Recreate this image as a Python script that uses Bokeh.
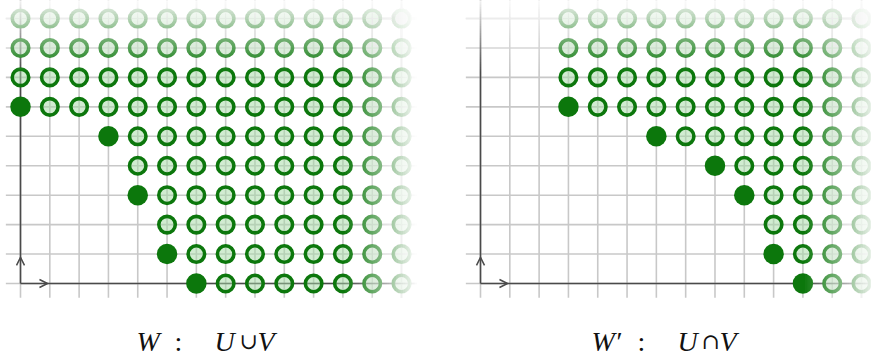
import numpy as np
from bokeh.plotting import figure
from bokeh.models import Range1d, Arrow, OpenHead, ColumnDataSource
from bokeh.core.properties import value
from bokeh.embed import file_html
from bokeh.resources import INLINE

# ---------------- data ----------------
N_COLS = 14          # lattice columns shown (0..13)
N_ROWS = 10          # lattice rows shown (0..9)
# generators (filled dots) of the two monomial ideals
W_gen_x = [0, 3, 4, 5, 6]
W_gen_y = [6, 5, 3, 1, 0]
Wp_gen_x = [3, 6, 8, 9, 10, 11]
Wp_gen_y = [6, 5, 4, 3, 1, 0]

# caption pieces: text, style, page-x of left edge
cap_left_text = ["W", ":", "U", "\u222a", "V"]
cap_left_style = ["italic", "normal", "italic", "normal", "italic"]
cap_left_px = [136, 174, 214, 239, 257]
cap_right_text = ["W\u2032", ":", "U", "\u2229", "V"]
cap_right_style = ["italic", "normal", "italic", "normal", "italic"]
cap_right_px = [591, 637, 677, 701, 719]

# ---------------- layout ----------------
W_PX, H_PX = 871, 356
UX, UY = 29.31, 29.44          # pixels per lattice unit
ORIGIN_X_PX = 20               # left panel origin in figure px
ORIGIN_Y_PX = 283              # origin from top, figure px
PANEL_GAP_PX = 460
offsets = [0.0, PANEL_GAP_PX / UX]

x_range = Range1d(-ORIGIN_X_PX / UX, (W_PX - ORIGIN_X_PX) / UX)
y_range = Range1d(-(H_PX - ORIGIN_Y_PX) / UY, ORIGIN_Y_PX / UY)

p = figure(width=W_PX, height=H_PX, x_range=x_range, y_range=y_range,
           output_backend="svg", toolbar_location=None, min_border=0)
p.axis.visible = False
p.grid.visible = False
p.outline_line_color = None
p.background_fill_color = "white"
p.border_fill_color = "white"

GRID_COLOR = "#c8c8c8"
AXIS_COLOR = "#4a4a4a"
DARK_GREEN = "#0c770c"
X_END = 13.6
Y_END = 9.8

def ideal_points(gx, gy):
    ring_x, ring_y = [], []
    gens = set(zip(gx, gy))
    for j in range(N_ROWS):
        for i in range(N_COLS):
            if (i, j) in gens:
                continue
            if any(i >= a and j >= b for a, b in gens):
                ring_x.append(i)
                ring_y.append(j)
    return ring_x, ring_y

panels = [(W_gen_x, W_gen_y), (Wp_gen_x, Wp_gen_y)]

for ox, (gx, gy) in zip(offsets, panels):
    # grid
    xs, ys = [], []
    for i in range(N_COLS):
        xs.append([ox + i, ox + i]); ys.append([-0.48, Y_END])
    for j in range(N_ROWS):
        xs.append([ox - 0.5, ox + X_END]); ys.append([j, j])
    p.multi_line(xs, ys, line_color=GRID_COLOR, line_width=1.6)
    # axes
    p.multi_line([[ox, ox + X_END], [ox, ox]], [[0, 0], [0, Y_END]],
                 line_color=AXIS_COLOR, line_width=1.6)
    for (xe, ye) in [(ox + 0.92, 0), (ox, 0.89)]:
        p.add_layout(Arrow(end=OpenHead(size=8, line_color=AXIS_COLOR, line_width=1.5),
                           x_start=ox, y_start=0, x_end=xe, y_end=ye, line_alpha=0))
    # dots
    rx, ry = ideal_points(gx, gy)
    p.scatter([ox + v for v in rx], ry, marker="circle", size=16.5,
              fill_color="#a4d9a4", fill_alpha=0.5,
              line_color=DARK_GREEN, line_width=3.6)
    p.scatter([ox + v for v in gx], gy, marker="circle", size=20.5,
              fill_color=DARK_GREEN, line_color=None)

# ---------------- fade overlays (white gradient) ----------------
K = 32
def nested_alphas(k):
    al = []
    prev = 0.0
    for n in range(k):
        r = (n + 1) / k
        a = 1.0 if r >= 1 else 1 - (1 - r) / (1 - prev)
        al.append(a)
        prev = r
    return al

alphas = nested_alphas(K)
# top fade
T0, T1 = 7.2, 9.8
q = dict(left=[], right=[], bottom=[], top=[], alpha=[])
for n in range(K):
    q["left"].append(x_range.start); q["right"].append(x_range.end)
    q["bottom"].append(T0 + (T1 - T0) * n / K); q["top"].append(11)
    q["alpha"].append(alphas[n])
# right fades of each panel
F0, F1 = 11.07, 13.6
ends = [offsets[1] - 0.55, x_range.end + 1]
for ox, xe in zip(offsets, ends):
    for n in range(K):
        q["left"].append(ox + F0 + (F1 - F0) * n / K); q["right"].append(xe)
        q["bottom"].append(-0.7); q["top"].append(11)
        q["alpha"].append(alphas[n])
p.quad(left="left", right="right", bottom="bottom", top="top",
       fill_color="white", fill_alpha="alpha", line_color=None,
       source=ColumnDataSource(q))

# ---------------- captions ----------------
CAP_Y = (ORIGIN_Y_PX - 341) / UY
def add_caption(texts, styles, pxs):
    for t, s, px in zip(texts, styles, pxs):
        is_op = t in ("\u222a", "\u2229")
        p.text(x=[(px - ORIGIN_X_PX) / UX], y=[CAP_Y], text=[t],
               text_font=value("DejaVu Serif" if is_op else "Liberation Serif"),
               text_font_style=s, text_font_size="22px" if is_op else "28px",
               text_color="#111111", text_align="left", text_baseline="middle")

add_caption(cap_left_text, cap_left_style, cap_left_px)
add_caption(cap_right_text, cap_right_style, cap_right_px)

open("out.html", "w").write(file_html(p, INLINE))
